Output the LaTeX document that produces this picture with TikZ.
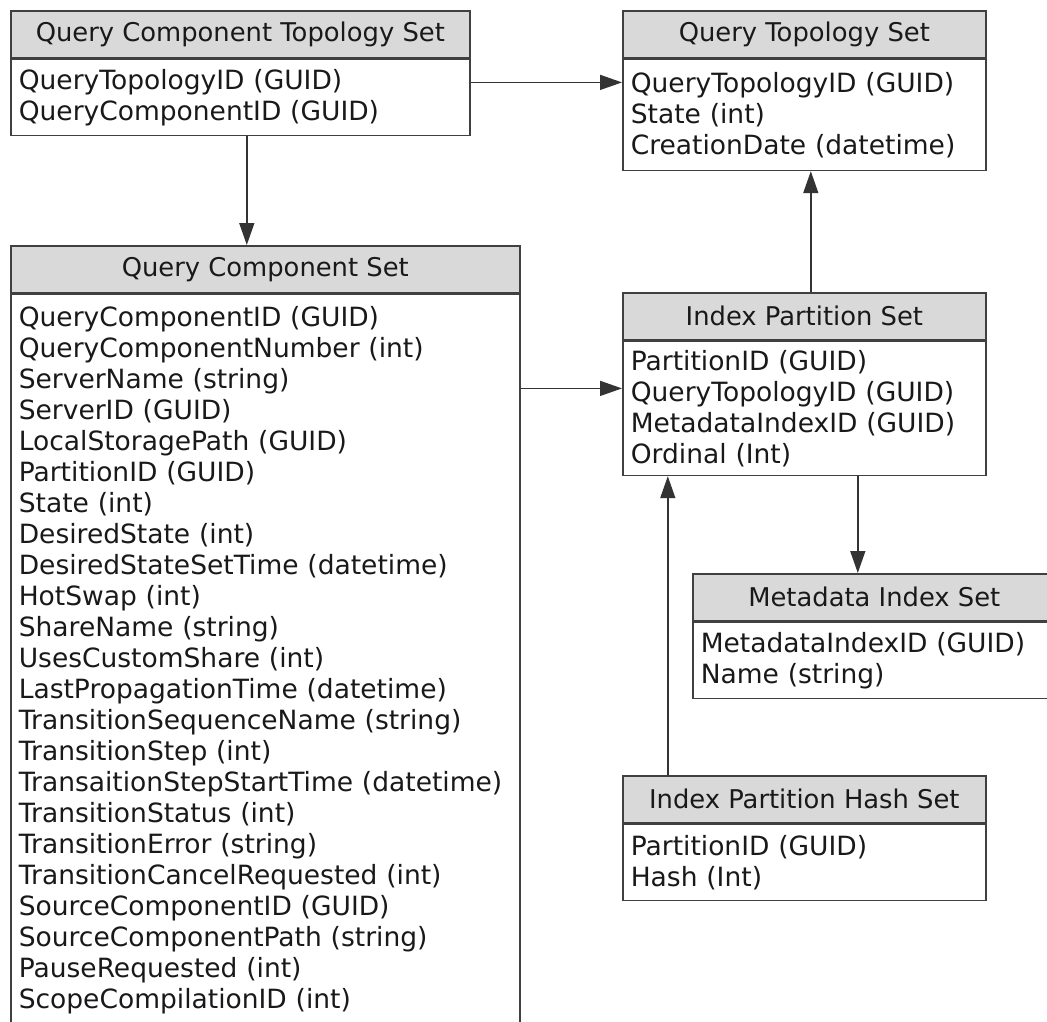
\documentclass[tikz,border=0pt]{standalone}
\usepackage{fontspec}
\setmainfont{DejaVu Sans}
\usetikzlibrary{arrows.meta}

\begin{document}
\begin{tikzpicture}[
    x=1pt, y=-1pt,
    font=\fontsize{26.5}{31}\selectfont,
    head/.style={draw=black!75, line width=1.6pt, fill=black!15,
      text=black!90, anchor=north west, minimum height=47pt, inner sep=0pt,
      font=\fontsize{25.8}{31}\selectfont},
    body/.style={draw=black!75, line width=1.6pt, fill=white, text=black!90,
      anchor=north west, align=left, inner xsep=8pt, inner ysep=4pt},
    arrow/.style={-{Triangle[length=22pt, width=15pt]}, line width=1.5pt, black!80}
  ]
  \useasboundingbox (0,0) rectangle (1047,1022);
  %---- QUERY COMPONENT TOPOLOGY SET ----
  \node[head, minimum width=459pt] (qcts-h) at (10,10) {Query Component Topology Set};
  \node[body, text width=443pt, minimum height=76pt] (qcts) at (qcts-h.south west)
    {QueryTopologyID (GUID)\\QueryComponentID (GUID)};
  %---- QUERY TOPOLOGY SET ----
  \node[head, minimum width=363pt] (qts-h) at (622,10) {Query Topology Set};
  \node[body, text width=347pt, minimum height=111pt] (qts) at (qts-h.south west)
    {QueryTopologyID (GUID)\\State (int)\\CreationDate (datetime)};
  %---- QUERY COMPONENT SET ----
  \node[head, minimum width=509pt] (qcs-h) at (10,245) {Query Component Set};
  \node[body, text width=493pt, minimum height=731pt] (qcs) at (qcs-h.south west)
    {QueryComponentID (GUID)\\QueryComponentNumber (int)\\ServerName (string)\\
     ServerID (GUID)\\LocalStoragePath (GUID)\\PartitionID (GUID)\\State (int)\\
     DesiredState (int)\\DesiredStateSetTime (datetime)\\HotSwap (int)\\
     ShareName (string)\\UsesCustomShare (int)\\LastPropagationTime (datetime)\\
     TransitionSequenceName (string)\\TransitionStep (int)\\
     TransaitionStepStartTime (datetime)\\TransitionStatus (int)\\
     TransitionError (string)\\TransitionCancelRequested (int)\\
     SourceComponentID (GUID)\\SourceComponentPath (string)\\
     PauseRequested (int)\\ScopeCompilationID (int)};
  %---- INDEX PARTITION SET ----
  \node[head, minimum width=363pt] (ips-h) at (622,292) {Index Partition Set};
  \node[body, text width=347pt, minimum height=134pt] (ips) at (ips-h.south west)
    {PartitionID (GUID)\\QueryTopologyID (GUID)\\MetadataIndexID (GUID)\\Ordinal (Int)};
  %---- METADATA INDEX SET ----
  \node[head, minimum width=363pt] (mis-h) at (692,573) {Metadata Index Set};
  \node[body, text width=347pt, minimum height=76pt] (mis) at (mis-h.south west)
    {MetadataIndexID (GUID)\\Name (string)};
  %---- INDEX PARTITION HASH SET ----
  \node[head, minimum width=363pt] (iphs-h) at (622,775) {Index Partition Hash Set};
  \node[body, text width=347pt, minimum height=76pt] (iphs) at (iphs-h.south west)
    {PartitionID (GUID)\\Hash (Int)};
  %---- CONNECTORS ----
  \draw[arrow] ([yshift=15pt]qcts.east) -- ([yshift=15pt]qcts.east -| qts.west);
  \draw[arrow] ([xshift=6.5pt]qcts.south) -- ([xshift=6.5pt]qcts.south |- qcs-h.north);
  \draw[arrow] ([xshift=6.5pt]ips-h.north) -- ([xshift=6.5pt]ips-h.north |- qts.south);
  \draw[arrow] ([yshift=20pt]ips.west -| qcs.east) -- ([yshift=20pt]ips.west);
  \draw[arrow] ([xshift=-16.5pt]mis-h.north |- ips.south) -- ([xshift=-16.5pt]mis-h.north);
  \draw[arrow] ([xshift=-136.5pt]iphs-h.north) -- ([xshift=-136.5pt]iphs-h.north |- ips.south);
\end{tikzpicture}
\end{document}
